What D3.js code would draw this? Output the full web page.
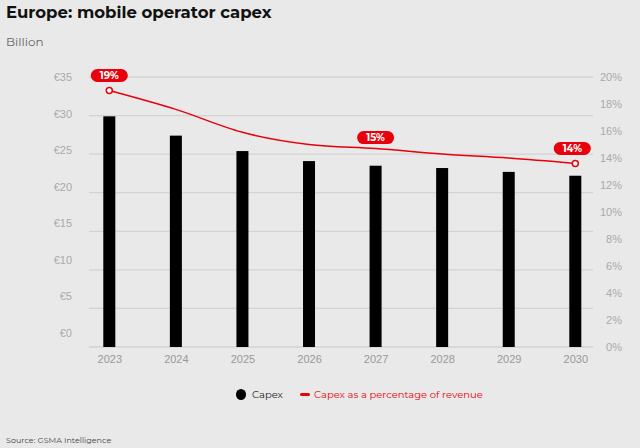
<!DOCTYPE html>
<html><head><meta charset="utf-8">
<script src="https://cdn.jsdelivr.net/npm/d3@7"></script>
<style>
html,body{margin:0;padding:0;background:#e8e9e8;}
svg{display:block;font-family:"Montserrat","Noto Sans","Open Sans",sans-serif;}
</style></head>
<body><svg id="c" width="640" height="448"></svg>
<script>
const years = ["2023","2024","2025","2026","2027","2028","2029","2030"];
const capex = [29.9, 27.4, 25.4, 24.1, 23.5, 23.2, 22.7, 22.2];
const capexPct = [19.0, 17.6, 15.9, 15.0, 14.7, 14.3, 14.0, 13.6];
const leftTicks = [0, 5, 10, 15, 20, 25, 30, 35];
const rightTicks = [0, 2, 4, 6, 8, 10, 12, 14, 16, 18, 20];
const pctLabels = [{year:"2023", text:"19%"}, {year:"2027", text:"15%"}, {year:"2030", text:"14%"}];
const markerYears = ["2023", "2030"];

const svg = d3.select("#c");
const red = "#e8000b";
const x = d3.scalePoint().domain(years).range([109.3, 575.3]);
const yL = d3.scaleLinear().domain([0, 35]).range([347, 77]);
const yLabel = d3.scaleLinear().domain([0, 35]).range([333, 77]);
const yR = d3.scaleLinear().domain([0, 20]).range([347, 77]);

// title
svg.append("text").attr("x", 6).attr("y", 18).attr("font-size", 16.5).attr("font-weight", 700)
  .attr("fill", "#111").text("Europe: mobile operator capex");
svg.append("text").attr("x", 6).attr("y", 46).attr("font-size", 12).attr("fill", "#666").text("Billion");

// gridlines
svg.append("g").selectAll("line").data(leftTicks).join("line")
  .attr("x1", 89).attr("x2", 593).attr("y1", d => yL(d)).attr("y2", d => yL(d))
  .attr("stroke", "#d2d3d2").attr("stroke-width", 1.3);

// left axis labels
const gl = svg.append("g").attr("transform", "translate(72,0)")
  .call(d3.axisLeft(yLabel).tickValues(leftTicks).tickSize(0).tickPadding(0).tickFormat(d => "€" + d));
gl.select(".domain").remove();
gl.selectAll("text").attr("fill", "#aaa").attr("font-size", 11).attr("font-family", "inherit");

// right axis
const gr = svg.append("g").attr("transform", "translate(622,0)")
  .call(d3.axisRight(yR).tickValues(rightTicks).tickSize(0).tickPadding(0).tickFormat(d => d + "%"));
gr.select(".domain").remove();
gr.selectAll("text").attr("fill", "#aaa").attr("font-size", 11).attr("font-family", "inherit")
  .attr("text-anchor", "end");

// x axis
const gx = svg.append("g").attr("transform", "translate(0,355)")
  .call(d3.axisBottom(x).tickSize(0).tickPadding(0));
gx.select(".domain").remove();
gx.selectAll("text").attr("fill", "#999").attr("font-size", 11).attr("font-family", "inherit");

// bars
const bw = 12;
svg.append("g").selectAll("rect").data(years).join("rect")
  .attr("x", (d) => x(d) - bw/2).attr("width", bw)
  .attr("y", (d, i) => yL(capex[i])).attr("height", (d, i) => yL(0) - yL(capex[i]))
  .attr("fill", "#000");

// line
const line = d3.line().x((d, i) => x(years[i])).y(d => yR(d)).curve(d3.curveMonotoneX);
svg.append("path").datum(capexPct).attr("d", line).attr("fill", "none")
  .attr("stroke", red).attr("stroke-width", 1.5);

svg.append("g").selectAll("circle").data(markerYears).join("circle")
  .attr("cx", d => x(d)).attr("cy", d => yR(capexPct[years.indexOf(d)]))
  .attr("r", 3).attr("fill", "#fff").attr("stroke", red).attr("stroke-width", 1.5);

// pill labels
const offs = {"2023": -15, "2027": -11, "2030": -15};
const dx = {"2023": 0, "2027": 0, "2030": -3};
const pl = svg.append("g").selectAll("g").data(pctLabels).join("g")
  .attr("transform", d => `translate(${x(d.year) + dx[d.year]},${yR(capexPct[years.indexOf(d.year)]) + offs[d.year]})`);
pl.append("rect").attr("x", -18.5).attr("y", -6.5).attr("width", 37).attr("height", 13)
  .attr("rx", 6.5).attr("fill", red);
pl.append("text").attr("text-anchor", "middle").attr("dy", "0.35em").attr("font-size", 10)
  .attr("font-weight", 700).attr("fill", "#fff").text(d => d.text);

// legend
const lg = svg.append("g");
lg.append("ellipse").attr("cx", 241).attr("cy", 394.5).attr("rx", 5).attr("ry", 5.5).attr("fill", "#000");
lg.append("text").attr("x", 252).attr("y", 398).attr("font-size", 10).attr("fill", "#222").text("Capex");
lg.append("rect").attr("x", 300).attr("y", 393).attr("width", 10).attr("height", 3).attr("rx", 1.5).attr("fill", red);
lg.append("text").attr("x", 314).attr("y", 398).attr("font-size", 10).attr("fill", red).text("Capex as a percentage of revenue");

// source
svg.append("text").attr("x", 6).attr("y", 443).attr("font-size", 8).attr("fill", "#444").text("Source: GSMA Intelligence");
</script></body></html>
